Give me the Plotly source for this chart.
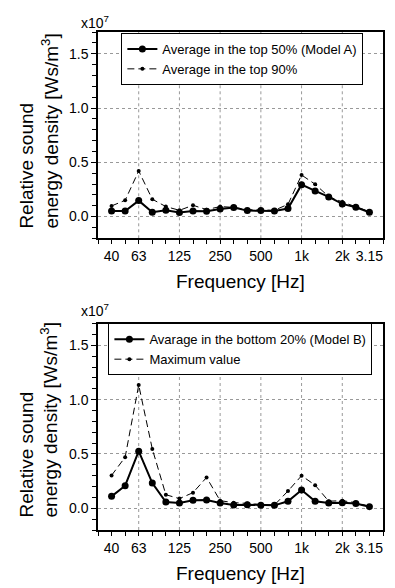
import plotly.graph_objects as go
from plotly.subplots import make_subplots

# 1/3-octave band centre frequencies (Hz)
bands = ["40", "50", "63", "80", "100", "125", "160", "200", "250", "315",
         "400", "500", "630", "800", "1k", "1.25k", "1.6k", "2k", "2.5k", "3.15k"]
tick_bands = ["40", "63", "125", "250", "500", "1k", "2k", "3.15k"]
tick_text = ["40", "63", "125", "250", "500", "1k", "2k", "3.15"]
grid_bands = ["63", "125", "250", "500", "1k", "2k"]

# values in units of 1e7 Ws/m^3
top50 = [0.052, 0.052, 0.147, 0.040, 0.058, 0.037, 0.052, 0.049, 0.070, 0.083,
         0.055, 0.055, 0.052, 0.074, 0.294, 0.236, 0.181, 0.117, 0.086, 0.040]
top90 = [0.098, 0.150, 0.420, 0.160, 0.092, 0.058, 0.104, 0.064, 0.092, 0.085,
         0.064, 0.058, 0.058, 0.113, 0.383, 0.298, 0.184, 0.135, 0.092, 0.046]
bottom20 = [0.110, 0.208, 0.526, 0.232, 0.058, 0.049, 0.073, 0.076, 0.049, 0.031,
            0.033, 0.027, 0.027, 0.064, 0.168, 0.064, 0.049, 0.052, 0.043, 0.015]
maxval = [0.303, 0.471, 1.135, 0.547, 0.125, 0.089, 0.144, 0.284, 0.070, 0.052,
          0.045, 0.034, 0.030, 0.159, 0.300, 0.213, 0.065, 0.070, 0.052, 0.018]

x = list(range(len(bands)))
tick_pos = [bands.index(b) for b in tick_bands]
grid_pos = [bands.index(b) for b in grid_bands]

FONT = "Liberation Sans, Arial, Helvetica, sans-serif"

fig = make_subplots(rows=2, cols=1, vertical_spacing=0.1715)

def solid(name, y, leg):
    return go.Scatter(x=x, y=y, name=name, mode="lines+markers",
                      line=dict(color="black", width=2),
                      marker=dict(color="black", size=7, symbol="circle"),
                      legend=leg)

def dashed(name, y, leg):
    return go.Scatter(x=x, y=y, name=name, mode="lines+markers",
                      line=dict(color="black", width=1, dash="7px,4px"),
                      marker=dict(color="black", size=4, symbol="circle"),
                      legend=leg)

fig.add_trace(solid("Average in the top 50% (Model A)", top50, "legend"), row=1, col=1)
fig.add_trace(dashed("Average in the top 90%", top90, "legend"), row=1, col=1)
fig.add_trace(solid("Avarage in the bottom 20% (Model B)", bottom20, "legend2"), row=2, col=1)
fig.add_trace(dashed("Maximum value", maxval, "legend2"), row=2, col=1)

xax = dict(range=[-1, len(bands)], tickmode="array", tickvals=tick_pos, ticktext=tick_text,
           ticks="outside", ticklen=4, tickwidth=1, tickcolor="black",
           minor=dict(dtick=1, tick0=0, ticks="outside", ticklen=4, tickcolor="black", showgrid=False),
           showgrid=False, zeroline=False, showline=True, linecolor="black", linewidth=1.5,
           mirror=True, tickfont=dict(size=14, color="black", family=FONT))
yax = dict(range=[-0.2, 1.7], tickmode="array", tickvals=[0, 0.5, 1.0, 1.5],
           ticktext=["0.0", "0.5", "1.0", "1.5"],
           ticks="outside", ticklen=5, tickwidth=1, tickcolor="black",
           minor=dict(dtick=0.1, tick0=0, ticks="outside", ticklen=4, tickcolor="black", showgrid=False),
           showgrid=True, gridcolor="#999999", griddash="dot", gridwidth=1,
           zeroline=False, showline=True, linecolor="black", linewidth=1.5,
           mirror=True, tickfont=dict(size=14, color="black", family=FONT))

fig.update_xaxes(**xax)
fig.update_yaxes(**yax)

shapes = []
for xr, yr in [("x", "y domain"), ("x2", "y2 domain")]:
    for g in grid_pos:
        shapes.append(dict(type="line", xref=xr, yref=yr, x0=g, x1=g, y0=0, y1=1,
                           line=dict(color="#999999", width=1, dash="dot"), layer="below"))

annotations = []
ytitle = "Relative sound<br>energy density [Ws/m<sup>3</sup>]"
for yc in [0.800, 0.220]:
    annotations.append(dict(text=ytitle, xref="paper", yref="paper", x=-0.207, y=yc,
                            xanchor="center", yanchor="middle", textangle=-90, align="left",
                            showarrow=False, font=dict(size=19, color="black", family=FONT)))
for yc in [0.998, 0.4197]:
    annotations.append(dict(text="x10<sup>7</sup>", xref="paper", yref="paper", x=-0.009, y=yc,
                            xanchor="center", yanchor="bottom", showarrow=False,
                            font=dict(size=14, color="black", family=FONT)))
for yc in [0.500, -0.088]:
    annotations.append(dict(text="Frequency [Hz]", xref="paper", yref="paper", x=0.5, y=yc,
                            xanchor="center", yanchor="middle", showarrow=False,
                            font=dict(size=19, color="black", family=FONT)))

leg = dict(xanchor="left", yanchor="top", bgcolor="white", bordercolor="black",
           borderwidth=1, font=dict(size=13, color="black", family=FONT),
           tracegroupgap=0)

# page body has an 8px default margin, so the figure is 8px smaller and shifted
fig.update_layout(
    width=387, height=580,
    margin=dict(l=89.5, r=10, t=24, b=58),
    paper_bgcolor="white", plot_bgcolor="white",
    font=dict(family=FONT, color="black"),
    showlegend=True,
    legend=dict(x=0.082, y=0.998, **leg),
    legend2=dict(x=0.0365, y=0.415, **leg),
    shapes=shapes,
    annotations=annotations,
)

fig.write_html("out.html")
